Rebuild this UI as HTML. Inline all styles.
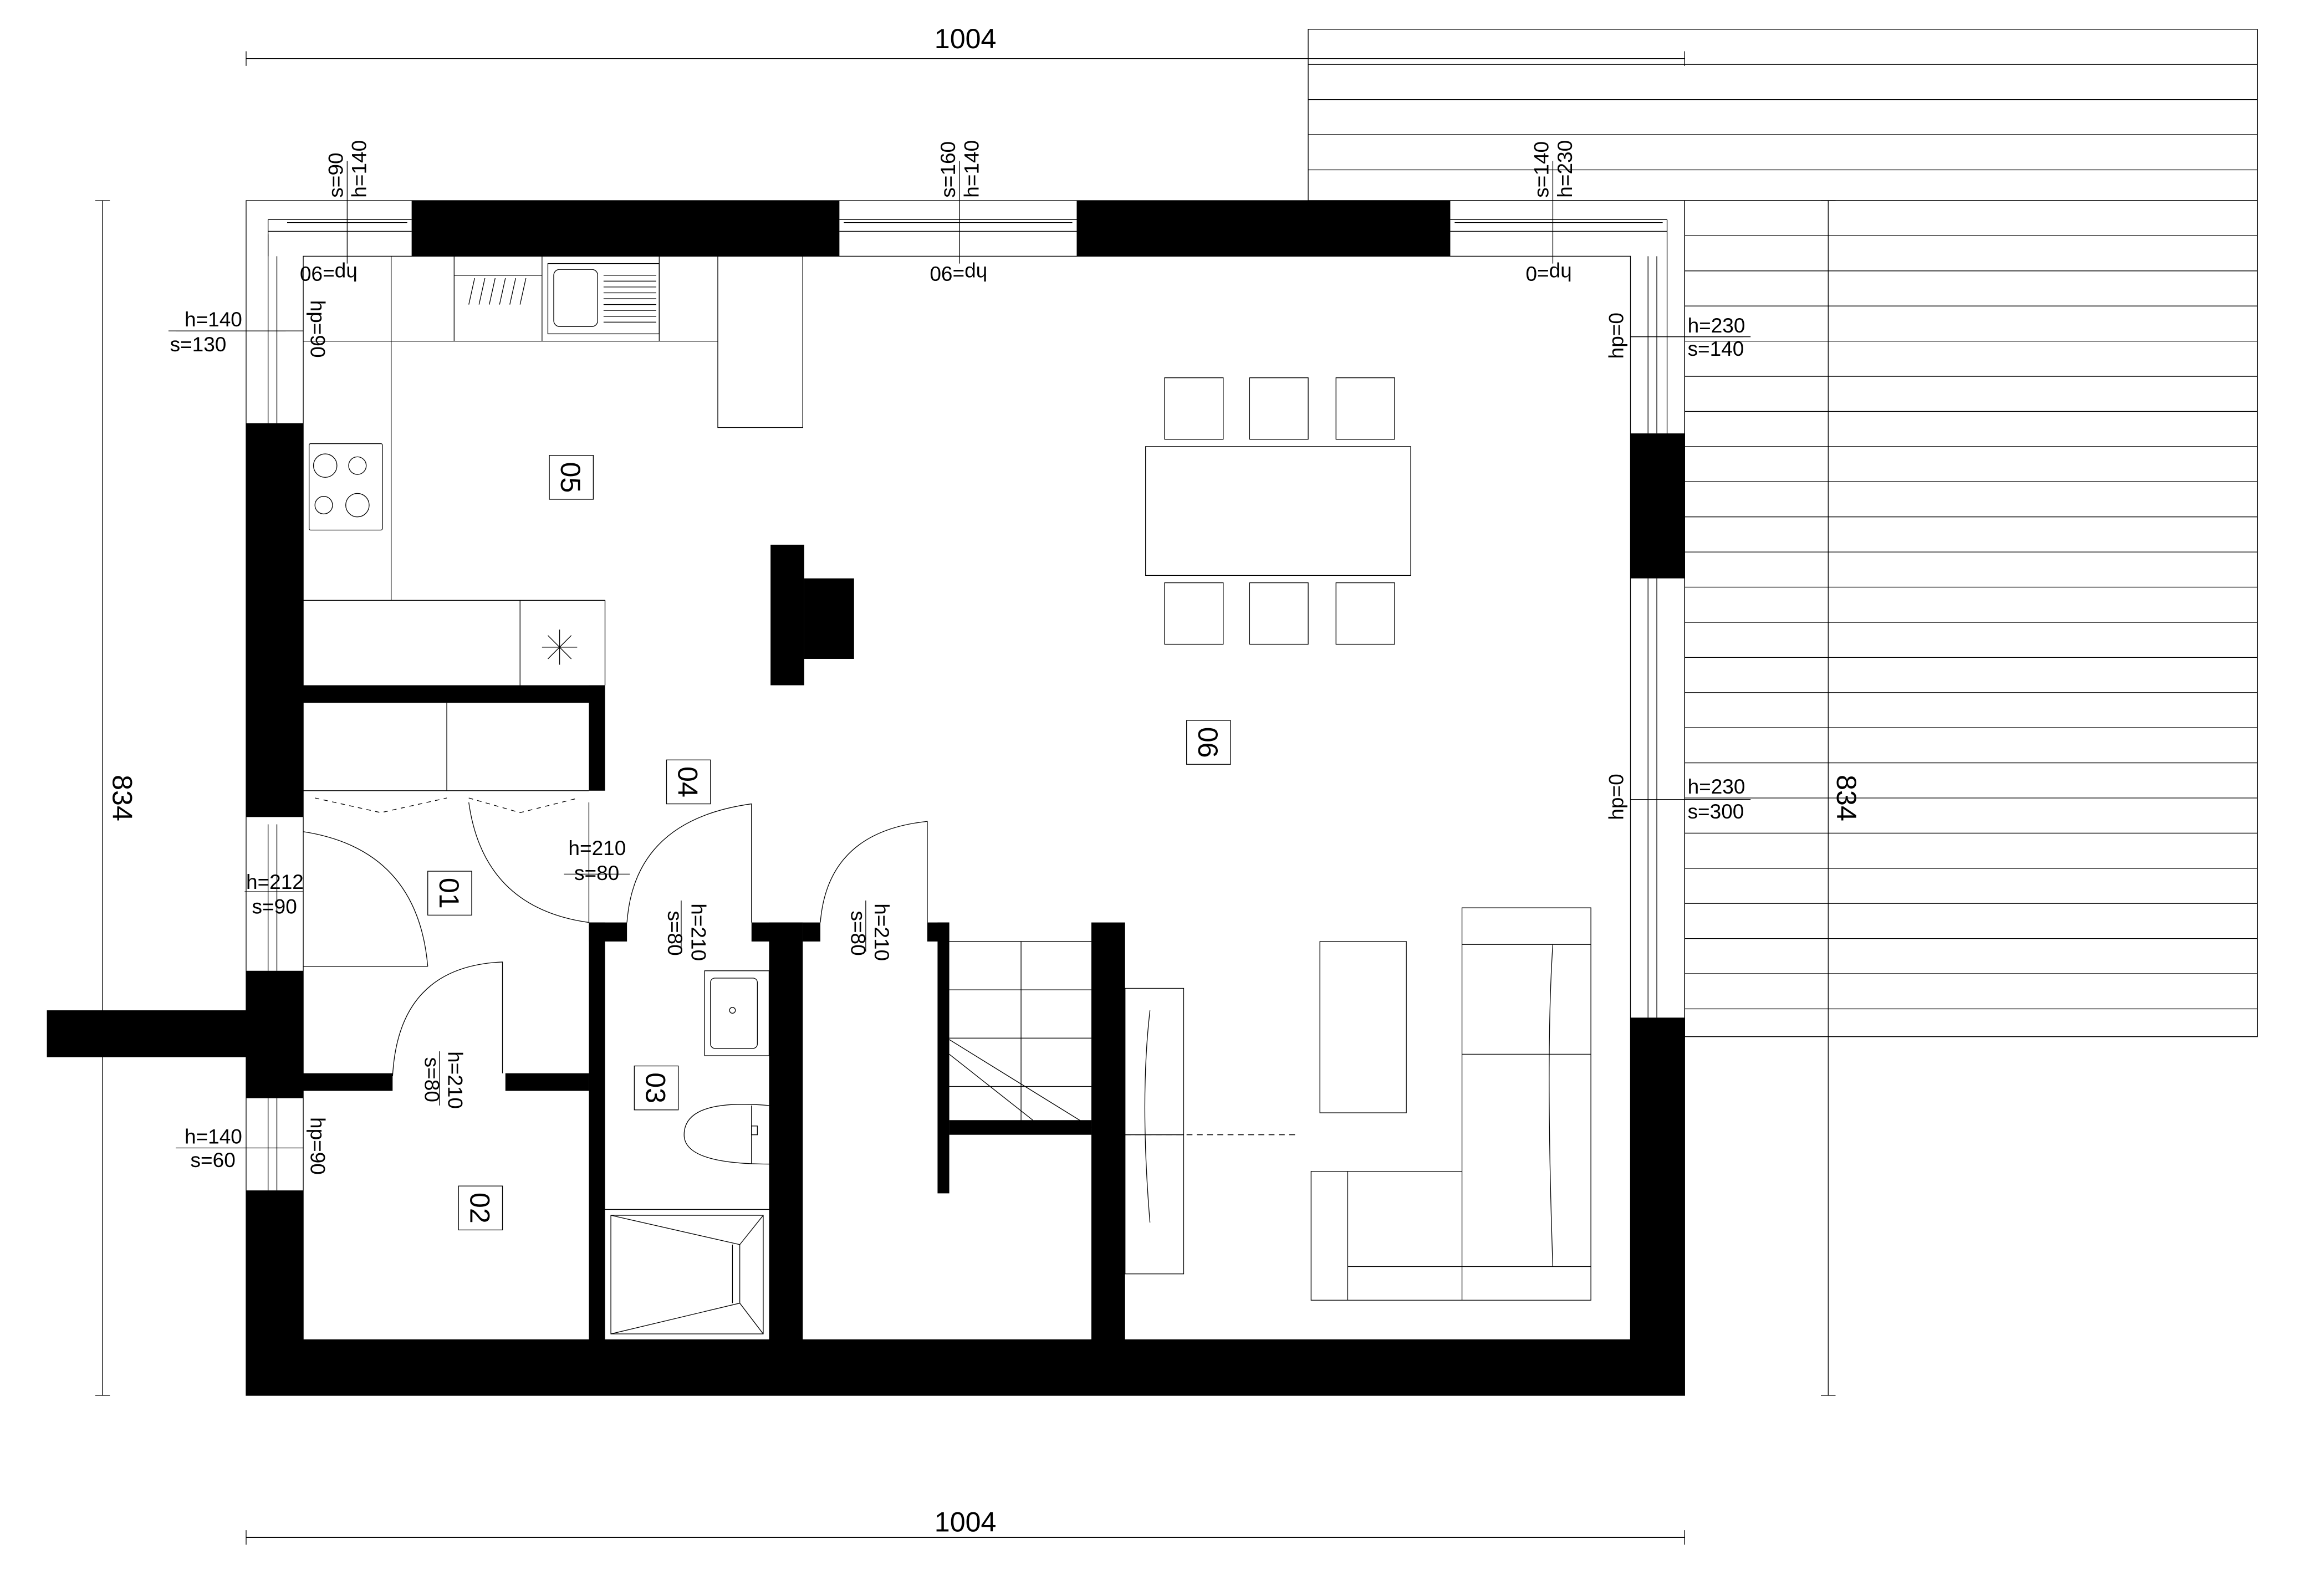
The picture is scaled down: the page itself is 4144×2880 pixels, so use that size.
<!DOCTYPE html>
<html><head><meta charset="utf-8"><style>
html,body{margin:0;padding:0;background:#fff}
svg{display:block}
text{font-family:"Liberation Sans",sans-serif;fill:#000}
</style></head><body>
<svg width="4144" height="2880" viewBox="0 0 1568 1090" preserveAspectRatio="none" xmlns="http://www.w3.org/2000/svg">
<g fill="none" stroke="#000" stroke-width="0.5">
<!-- terrace -->
<rect x="893" y="20" width="648" height="117"/>
<rect x="1150" y="137" width="391" height="571"/>
<path d="M893 44H1541M893 68H1541M893 92H1541M893 116H1541"/>
<path d="M1150 161H1541M1150 185H1541M1150 209H1541M1150 233H1541M1150 257H1541M1150 281H1541M1150 305H1541M1150 329H1541M1150 353H1541M1150 377H1541M1150 401H1541M1150 425H1541M1150 449H1541M1150 473H1541M1150 497H1541M1150 521H1541M1150 545H1541M1150 569H1541M1150 593H1541M1150 617H1541M1150 641H1541M1150 665H1541M1150 689H1541"/>
<!-- dimension lines -->
<path d="M168 40H1150M168 35V45M1150 35V45"/>
<path d="M168 1050H1150M168 1045V1055M1150 1045V1055"/>
<path d="M70 137V953M65 137H75M65 953H75"/>
<path d="M1248 137V953M1243 137H1253M1243 953H1253"/>
<!-- outer outline -->
<rect x="168" y="137" width="982" height="816"/>
<rect x="207" y="175" width="906" height="740"/>
<!-- windows top -->
<path d="M183 150H281M183 158H281M183 150V175M573 150H735M573 158H735M990 150H1138M990 158H1138M1138 150V300"/>
<path d="M196 152H278M576 152H732M993 152H1135"/>
<!-- windows left -->
<path d="M183 160V289M189 175V289M183 563V663M189 563V663M183 750V813M189 750V813"/>
<!-- windows right -->
<path d="M1125 175V296M1131 175V296M1125 395V695M1131 395V695"/>
<!-- leader lines -->
<path d="M237 110V180M655 110V180M1060 110V180M120 226H207M1113 230H1190M1113 546H1190M120 784H207"/>
<!-- kitchen -->
<path d="M267 175V410M207 233H490M490 175V292H548V175M310 175V233M370 175V233M450 175V233M207 410H413M355 410V468M413 410V468"/>
<rect x="374" y="180" width="76" height="48"/>
<rect x="378" y="184" width="30" height="39" rx="4"/>
<path d="M412 188H448M412 192H448M412 196H448M412 200H448M412 204H448M412 208H448M412 212H448M412 216H448M412 220H448"/>
<path d="M310 188H370M320 208L324 190M327 208L331 190M334 208L338 190M341 208L345 190M348 208L352 190M355 208L359 190"/>
<rect x="211" y="303" width="50" height="59" rx="1"/>
<circle cx="222" cy="318" r="8"/><circle cx="244" cy="318" r="6"/><circle cx="221" cy="345" r="6"/><circle cx="244" cy="345" r="8"/>
<path d="M370 442H394M382 430V454M374 434L390 450M390 434L374 450"/>
<!-- wardrobe -->
<path d="M207 540H402M305 480V540" />
<path d="M215 545L260 555L305 545M320 545L355 555L395 545" stroke-dasharray="3 3"/>
<!-- doors -->
<path d="M207 568Q285 580 292 660M207 660H292" />
<path d="M320 548Q330 620 402 630M402 548V630"/>
<path d="M268 733V735Q272 660 343 657V733"/>
<path d="M428 630Q433 560 513 549V630"/>
<path d="M560 630Q565 568 633 561V630"/>
<!-- bathroom -->
<rect x="481" y="663" width="44" height="58"/>
<rect x="485" y="668" width="32" height="48" rx="3"/>
<circle cx="500" cy="690" r="2"/>
<path d="M525 755Q467 750 467 775Q467 795 525 795M513 755V795"/>
<rect x="513" y="769" width="4" height="6"/>
<path d="M413 826H525"/>
<rect x="417" y="830" width="104" height="81"/>
<path d="M417 830L505 850V890L417 911M521 830L505 850M521 911L505 890M500 850V890"/>
<!-- stairs -->
<path d="M648 643H745M648 676H745M648 709H745M648 742H745M697 643V770M648 710L745 770M648 720L705 765"/>
<!-- tv -->
<rect x="768" y="675" width="40" height="195"/>
<path d="M785 690Q778 750 785 835M768 775H808" />
<path d="M768 775H885" stroke-dasharray="4 3"/>
<!-- dining -->
<rect x="782" y="305" width="181" height="88"/>
<rect x="795" y="258" width="40" height="42"/><rect x="853" y="258" width="40" height="42"/><rect x="912" y="258" width="40" height="42"/>
<rect x="795" y="398" width="40" height="42"/><rect x="853" y="398" width="40" height="42"/><rect x="912" y="398" width="40" height="42"/>
<!-- sofa & table -->
<rect x="901" y="643" width="59" height="117"/>
<path d="M998 620H1086V888H895V800H998ZM998 645H1086M998 720H1086M998 800V888M920 800V888M920 865H1086M1060 645Q1055 720 1060 865"/>
<!-- label boxes -->
<rect x="375" y="311" width="30" height="30"/>
<rect x="292" y="595" width="30" height="30"/>
<rect x="455" y="519" width="30" height="30"/>
<rect x="433" y="728" width="30" height="30"/>
<rect x="313" y="810" width="30" height="30"/>
<rect x="810" y="492" width="30" height="30"/>
<!-- fraction lines -->
<path d="M167 609H207M385 597H430M465 615V650M591 615V650M300 718V755M115 226H195M1150 230H1195M1150 546H1195"/>
</g>
<!-- walls -->
<g fill="#000">
<rect x="281" y="137" width="292" height="38"/>
<rect x="735" y="137" width="255" height="38"/>
<rect x="168" y="289" width="39" height="269"/>
<rect x="168" y="663" width="39" height="87"/>
<rect x="32" y="690" width="136" height="32"/>
<rect x="168" y="813" width="39" height="140"/>
<rect x="168" y="915" width="982" height="38"/>
<rect x="1113" y="296" width="37" height="99"/>
<rect x="1113" y="695" width="37" height="258"/>
<rect x="207" y="468" width="206" height="12"/>
<rect x="402" y="468" width="11" height="72"/>
<rect x="526" y="372" width="23" height="96"/>
<rect x="549" y="395" width="34" height="55"/>
<rect x="207" y="733" width="61" height="12"/>
<rect x="345" y="733" width="57" height="12"/>
<rect x="402" y="630" width="11" height="285"/>
<rect x="402" y="630" width="26" height="13"/>
<rect x="513" y="630" width="35" height="13"/>
<rect x="525" y="630" width="23" height="285"/>
<rect x="548" y="630" width="12" height="13"/>
<rect x="633" y="630" width="15" height="13"/>
<rect x="640" y="630" width="8" height="185"/>
<rect x="648" y="765" width="97" height="10"/>
<rect x="745" y="630" width="23" height="285"/>
</g>
<!-- texts -->
<g font-size="19">
<text x="659" y="33" text-anchor="middle">1004</text>
<text x="659" y="1046" text-anchor="middle">1004</text>
<text transform="translate(77,545) rotate(90)" text-anchor="middle">834</text>
<text transform="translate(1254,545) rotate(90)" text-anchor="middle">834</text>
<text transform="translate(383,326) rotate(90)" text-anchor="middle">05</text>
<text transform="translate(300,610) rotate(90)" text-anchor="middle">01</text>
<text transform="translate(463,534) rotate(90)" text-anchor="middle">04</text>
<text transform="translate(441,743) rotate(90)" text-anchor="middle">03</text>
<text transform="translate(321,825) rotate(90)" text-anchor="middle">02</text>
<text transform="translate(818,507) rotate(90)" text-anchor="middle">06</text>
</g>
<g font-size="14">
<text transform="translate(250,135) rotate(-90)">h=140</text>
<text transform="translate(234,135) rotate(-90)">s=90</text>
<text transform="translate(668,135) rotate(-90)">h=140</text>
<text transform="translate(652,135) rotate(-90)">s=160</text>
<text transform="translate(1073,135) rotate(-90)">h=230</text>
<text transform="translate(1057,135) rotate(-90)">s=140</text>
<text transform="translate(244,182) rotate(180)">hp=90</text>
<text transform="translate(674,182) rotate(180)">hp=90</text>
<text transform="translate(1073,182) rotate(180)">hp=0</text>
<text transform="translate(212,205) rotate(90)">hp=90</text>
<text transform="translate(212,763) rotate(90)">hp=90</text>
<text transform="translate(1108,245) rotate(-90)">hp=0</text>
<text transform="translate(1108,560) rotate(-90)">hp=0</text>
<text x="126" y="223">h=140</text><text x="116" y="240">s=130</text>
<text x="1152" y="227">h=230</text><text x="1152" y="243">s=140</text>
<text x="1152" y="542">h=230</text><text x="1152" y="559">s=300</text>
<text x="168" y="607">h=212</text><text x="172" y="624">s=90</text>
<text x="388" y="584">h=210</text><text x="392" y="601">s=80</text>
<text x="126" y="781">h=140</text><text x="130" y="797">s=60</text>
<text transform="translate(472,617) rotate(90)">h=210</text>
<text transform="translate(456,622) rotate(90)">s=80</text>
<text transform="translate(597,617) rotate(90)">h=210</text>
<text transform="translate(581,622) rotate(90)">s=80</text>
<text transform="translate(306,718) rotate(90)">h=210</text>
<text transform="translate(290,722) rotate(90)">s=80</text>
</g>
</svg>
</body></html>
